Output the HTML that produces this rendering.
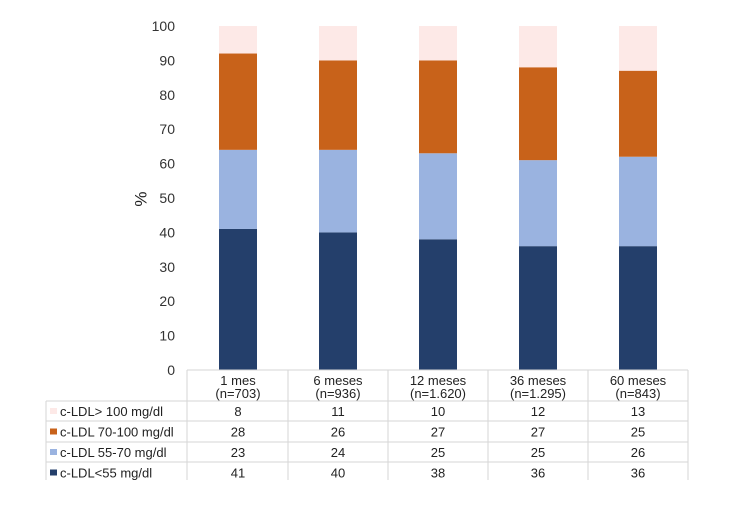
<!DOCTYPE html>
<html><head><meta charset="utf-8"><style>
body{margin:0;background:#fff;font-family:"Liberation Sans",sans-serif;}
</style></head><body>
<svg width="750" height="500" xmlns="http://www.w3.org/2000/svg" font-family="Liberation Sans, sans-serif">
<g id="axis"></g><g id="bars"></g><g id="table"></g>
<text x="142" y="199" font-size="17" text-anchor="middle" dominant-baseline="middle" transform="rotate(-90 142 199)" fill="#222">%</text>
</svg>
<script>
const categories=["1 mes","6 meses","12 meses","36 meses","60 meses"];
const counts=["(n=703)","(n=936)","(n=1.620)","(n=1.295)","(n=843)"];
const seriesNames=["c-LDL> 100 mg/dl","c-LDL 70-100 mg/dl","c-LDL 55-70 mg/dl","c-LDL<55 mg/dl"];
const s100=[8,11,10,12,13];
const s70=[28,26,27,27,25];
const s55=[23,24,25,25,26];
const s0=[41,40,38,36,36];
const ticks=[0,10,20,30,40,50,60,70,80,90,100];
const colors=["#fde9e7","#c8621a","#9ab3e0","#243f6b"];
const NS="http://www.w3.org/2000/svg";
function y(v){return 370-v*3.44;}
function xc(i){return 238+i*100;}
function mk(t,a,p){const e=document.createElementNS(NS,t);for(const k in a)e.setAttribute(k,a[k]);p.appendChild(e);return e;}
const ax=document.getElementById('axis'),bg=document.getElementById('bars'),tb=document.getElementById('table');
ticks.forEach(t=>{const e=mk('text',{x:175,y:y(t)+5,'font-size':14,'text-anchor':'end',fill:'#333'},ax);e.textContent=t;

});
const stacks=[s0,s55,s70,s100];const cols=[colors[3],colors[2],colors[1],colors[0]];
categories.forEach((c,i)=>{let base=0;stacks.forEach((s,k)=>{const top=Math.min(100,base+s[i]);const h=Math.max(0,top-base);
const r=mk('rect',{x:xc(i)-19,y:y(top),width:38,height:h*3.44,fill:cols[k]},bg);

base+=s[i];});});
const L=mk('g',{stroke:'#d6d6d6','stroke-width':1,fill:'none'},tb);
[187,288,388,488,588,688].forEach(x=>mk('line',{x1:x,y1:370,x2:x,y2:480},L));
mk('line',{x1:46,y1:401,x2:46,y2:480},L);
mk('line',{x1:187,y1:370,x2:688,y2:370},L);
[401,421,442,462].forEach(yy=>mk('line',{x1:46,y1:yy,x2:688,y2:yy},L));
categories.forEach((c,i)=>{const t=mk('text',{x:xc(i),y:385,'font-size':13,'text-anchor':'middle',fill:'#222'},tb);t.textContent=c;


const n=mk('text',{x:xc(i),y:398,'font-size':13,'text-anchor':'middle',fill:'#222'},tb);n.textContent=counts[i];

});
const rows=[s100,s70,s55,s0];
rows.forEach((r,k)=>{const yy=416+k*20.5;
const sw=mk('rect',{x:50,y:yy-8,width:7,height:6,fill:colors[k]},tb);


const lt=mk('text',{x:60,y:yy,'font-size':13,fill:'#222'},tb);lt.textContent=seriesNames[k];


r.forEach((v,i)=>{const t=mk('text',{x:xc(i),y:yy,'font-size':13,'text-anchor':'middle',fill:'#222'},tb);t.textContent=v;

});});
</script>
</body></html>
